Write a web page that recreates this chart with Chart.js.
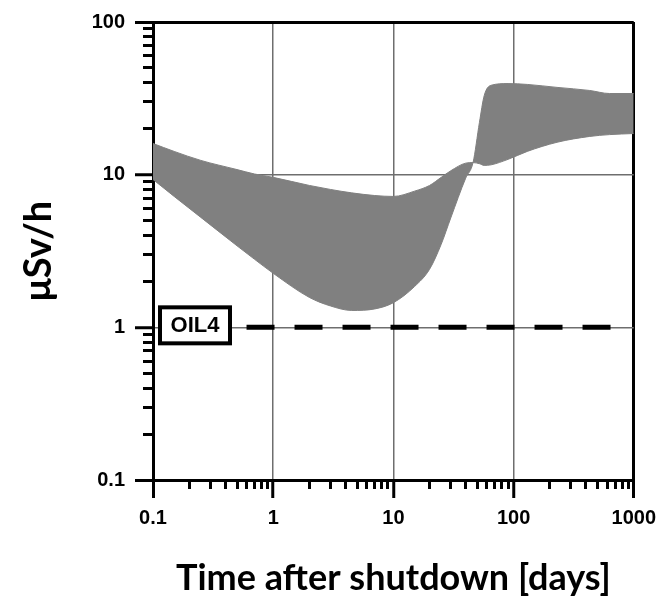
<!DOCTYPE html>
<html>
<head>
<meta charset="utf-8">
<script src="https://cdn.jsdelivr.net/npm/chart.js@4.4.1/dist/chart.umd.min.js"></script>
<style>
  html, body { margin: 0; padding: 0; background: #fff; }
  canvas { display: block; }
</style>
</head>
<body>
<canvas id="c" width="664" height="596"></canvas>
<script>
// ---- data ----
const times = [0.1, 0.15, 0.25, 0.5, 0.7, 1, 2, 3, 4.5, 7, 10, 15, 20, 25, 30, 40, 46, 52, 57, 65, 90, 130, 230, 430, 630, 1000];
const bandEdgeA = [16, 14.2, 12.4, 10.8, 10.1, 9.6, 8.5, 8.0, 7.6, 7.3, 7.2, 7.8, 8.5, 9.6, 10.6, 11.9, 12.0, 11.8, 11.5, 11.6, 12.6, 14.2, 16.3, 17.8, 18.3, 18.6];
const bandEdgeB = [9.3, 7.2, 5.25, 3.42, 2.79, 2.26, 1.57, 1.38, 1.29, 1.32, 1.45, 1.85, 2.4, 3.5, 5.2, 9.5, 12.0, 22, 33, 38.5, 39.5, 39, 37.3, 35.6, 34, 34];
const oilLevel = 1;
const oilTimes = [0.6, 658];
const oilLabel = 'OIL4';

const xMajorTicks = [0.1, 1, 10, 100, 1000];
const xTickLabels = ['0.1', '1', '10', '100', '1000'];
const yMajorTicks = [0.1, 1, 10, 100];
const yTickLabels = ['0.1', '1', '10', '100'];
const minorMultipliers = [2, 3, 4, 5, 6, 7, 8, 9];
const xDecades = [0.1, 1, 10, 100];
const yDecades = [0.1, 1, 10];

const xTitle = 'Time after shutdown [days]';
const yTitle = 'μSv/h';

// ---- helpers ----
const minorOf = decades => decades.flatMap(d => minorMultipliers.map(m => +(d * m).toPrecision(3)));
const xMinorTicks = minorOf(xDecades);
const yMinorTicks = minorOf(yDecades);

const tickFont = { family: 'Liberation Sans', size: 20, weight: 'bold' };
const titleFontFamily = 'Lato';

const isEdge = (v, lo, hi) => Math.abs(v - lo) < 1e-9 || Math.abs(v - hi) < 1e-9;

const oilLabelPlugin = {
  id: 'oilLabel',
  afterDraw(chart) {
    const { ctx, chartArea, scales } = chart;
    const yc = scales.y.getPixelForValue(oilLevel);
    const w = 74, h = 40;
    const x0 = chartArea.left + 5;
    const y0 = yc - h / 2 - 2;
    ctx.save();
    ctx.fillStyle = '#fff';
    ctx.fillRect(x0, y0, w, h);
    ctx.lineWidth = 4;
    ctx.strokeStyle = '#000';
    ctx.strokeRect(x0 + 2, y0 + 2, w - 4, h - 4);
    ctx.fillStyle = '#000';
    ctx.font = 'bold 22px "Liberation Sans"';
    ctx.textAlign = 'center';
    ctx.textBaseline = 'middle';
    ctx.fillText(oilLabel, x0 + w / 2, y0 + h / 2 + 1);
    ctx.restore();
  }
};

new Chart(document.getElementById('c'), {
  type: 'line',
  data: {
    datasets: [
      {
        label: 'band edge A',
        data: times.map((t, i) => ({ x: t, y: bandEdgeA[i] })),
        fill: '+1',
        backgroundColor: '#808080',
        borderColor: '#808080',
        borderWidth: 1,
        pointRadius: 0,
        cubicInterpolationMode: 'monotone'
      },
      {
        label: 'band edge B',
        data: times.map((t, i) => ({ x: t, y: bandEdgeB[i] })),
        fill: false,
        borderColor: '#808080',
        borderWidth: 1,
        pointRadius: 0,
        cubicInterpolationMode: 'monotone'
      },
      {
        label: oilLabel,
        data: oilTimes.map(t => ({ x: t, y: oilLevel })),
        fill: false,
        borderColor: '#000',
        borderWidth: 5,
        borderDash: [28, 20],
        borderCapStyle: 'butt',
        pointRadius: 0
      }
    ]
  },
  options: {
    responsive: false,
    animation: false,
    devicePixelRatio: 1,
    layout: { padding: { top: 22, right: 27, left: 0, bottom: 0 } },
    plugins: { legend: { display: false }, tooltip: { enabled: false } },
    scales: {
      x: {
        type: 'logarithmic',
        position: 'bottom',
        min: 0.1, max: 1000,
        z: 1,
        afterBuildTicks: s => { s.ticks = xMajorTicks.map(v => ({ value: v, major: true })); },
        afterFit: s => { s.height = 116; },
        ticks: {
          callback: (v, i) => xTickLabels[i],
          color: '#000',
          font: tickFont,
          padding: 8,
          maxRotation: 0,
          autoSkip: false
        },
        grid: {
          color: c => (c.tick && isEdge(c.tick.value, 0.1, 1000)) ? '#000' : '#6e6e6e',
          lineWidth: c => (c.tick && isEdge(c.tick.value, 0.1, 1000)) ? 3 : 1.5,
          tickColor: '#000',
          tickWidth: 3,
          tickLength: 18
        },
        border: { display: true, color: '#000', width: 3 },
        title: {
          display: true,
          text: xTitle,
          color: '#000',
          font: { family: titleFontFamily, size: 36, weight: 'bold', lineHeight: 1 },
          padding: { top: 2, bottom: 0 }
        }
      },
      y: {
        type: 'logarithmic',
        position: 'left',
        min: 0.1, max: 100,
        z: 1,
        afterBuildTicks: s => { s.ticks = yMajorTicks.map(v => ({ value: v, major: true })); },
        afterFit: s => { s.width = 153; },
        ticks: {
          callback: (v, i) => yTickLabels[i],
          color: '#000',
          font: tickFont,
          padding: 10,
          autoSkip: false
        },
        grid: {
          color: c => (c.tick && isEdge(c.tick.value, 0.1, 100)) ? '#000' : '#6e6e6e',
          lineWidth: c => (c.tick && isEdge(c.tick.value, 0.1, 100)) ? 3 : 1.5,
          tickColor: '#000',
          tickWidth: 3,
          tickLength: 18
        },
        border: { display: true, color: '#000', width: 3 },
        title: {
          display: true,
          text: yTitle,
          color: '#000',
          font: { family: titleFontFamily, size: 38, weight: 'bold', lineHeight: 1 },
          padding: { top: 20, bottom: 0 }
        }
      },
      xMinor: {
        type: 'logarithmic',
        position: { y: 0.1 },
        min: 0.1, max: 1000,
        z: 1,
        afterBuildTicks: s => { s.ticks = xMinorTicks.map(v => ({ value: v })); },
        ticks: { display: false },
        grid: { drawOnChartArea: false, tickColor: '#000', tickWidth: 3, tickLength: 9 },
        border: { display: false }
      },
      yMinor: {
        type: 'logarithmic',
        position: { x: 0.1 },
        min: 0.1, max: 100,
        z: 1,
        afterBuildTicks: s => { s.ticks = yMinorTicks.map(v => ({ value: v })); },
        ticks: { display: false },
        grid: { drawOnChartArea: false, tickColor: '#000', tickWidth: 3, tickLength: 10 },
        border: { display: false }
      }
    }
  },
  plugins: [oilLabelPlugin]
});
</script>
</body>
</html>
